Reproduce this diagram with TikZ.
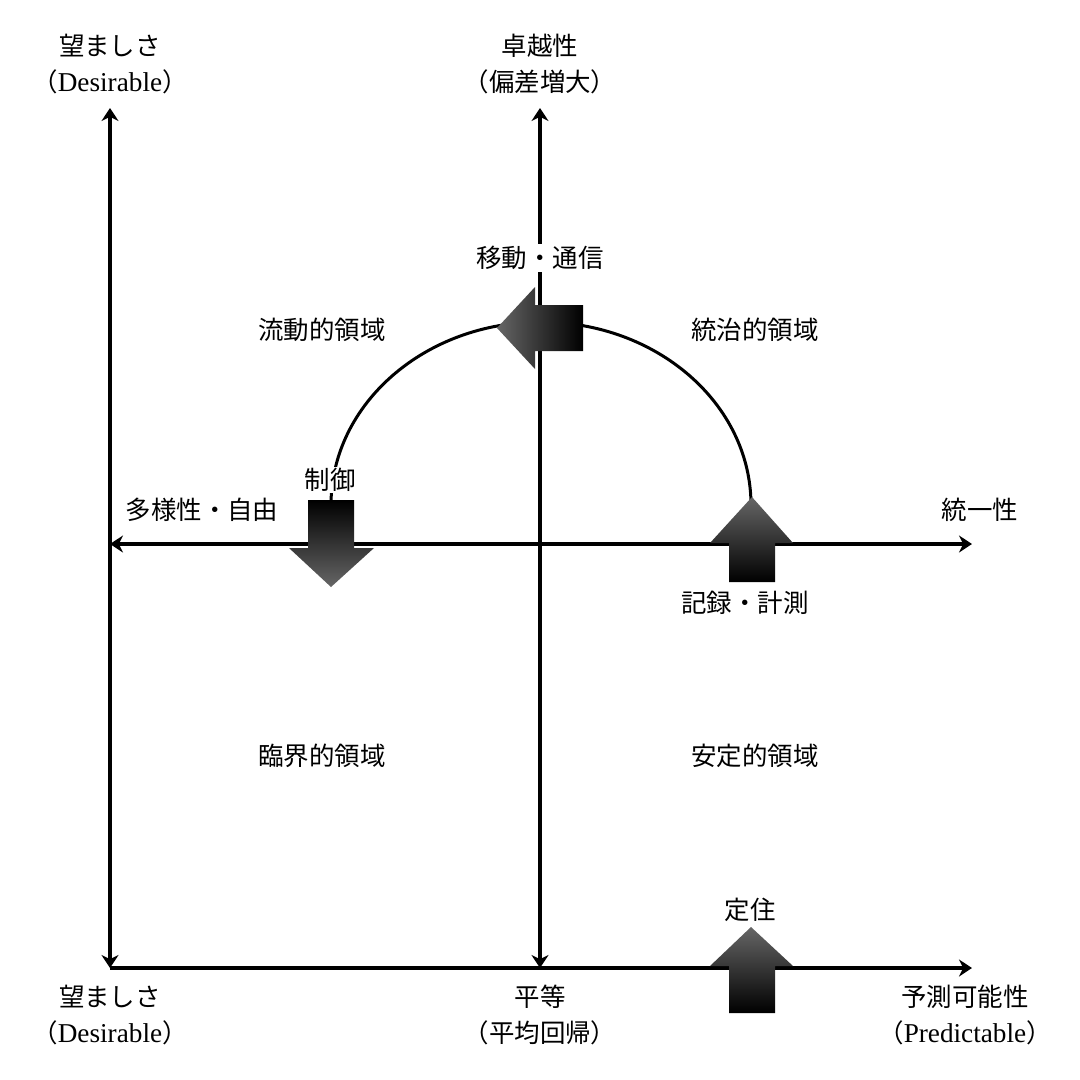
\documentclass[tikz,border=0pt]{standalone}
\usepackage{fontspec}
\setmainfont{Liberation Serif}
\newfontfamily\jpfont{Noto Sans CJK JP}
\usetikzlibrary{arrows.meta}

\begin{document}
\begin{tikzpicture}[
    x=0.02cm, y=-0.02cm,
    axis/.style={line width=0.08cm, {Stealth[length=0.26cm, width=0.34cm]}-{Stealth[length=0.26cm, width=0.34cm]}},
    oneway/.style={line width=0.08cm, -{Stealth[length=0.26cm, width=0.34cm]}},
    orbit/.style={line width=0.06cm},
    lbl/.style={font=\jpfont\fontsize{14.5}{20}\selectfont, align=center, inner sep=1pt},
    latin/.style={font=\rmfamily\fontsize{15.5}{20}\selectfont}
  ]
  \useasboundingbox (0,0) rectangle (1080,1080);

  % axes
  \coordinate (ltop) at (110,108);
  \coordinate (lbot) at (110,968);
  \coordinate (mtop) at (540,108);
  \coordinate (mbot) at (540,968);
  \coordinate (hleft) at (110,544);
  \coordinate (hright) at (972,544);
  \coordinate (bright) at (972,968);

  \draw[axis] (lbot) -- (ltop);
  \draw[axis] (mbot) -- (mtop);
  \draw[axis] (hleft) -- (hright);
  \draw[oneway] (lbot) -- (bright);

  % orbit through the upper half
  \coordinate (orbitL) at (331,505);
  \draw[orbit] (orbitL) arc[start angle=180, end angle=360, x radius=210, y radius=183];

  % block arrows
  \shade[left color=black!60, right color=black]
    (497,328) -- (535,287) -- (535,305) -- (583,305) -- (583,351) -- (535,351) -- (535,369) -- cycle;
  \node[lbl, fill=white] (ctrl) at (330,480) {制御};
  \shade[top color=black, bottom color=black!60]
    (308,500) -- (354,500) -- (354,548) -- (374,548) -- (331,587) -- (289,548) -- (308,548) -- cycle;
  \shade[top color=black!60, bottom color=black]
    (752,497) -- (793,543) -- (775,543) -- (775,582) -- (729,582) -- (729,543) -- (710,543) -- cycle;
  \shade[top color=black!60, bottom color=black]
    (751,927) -- (793,966) -- (775,966) -- (775,1013) -- (729,1013) -- (729,966) -- (710,966) -- cycle;

  % labels
  \node[lbl] (want) at (110,64) {望ましさ\\（{\fontsize{15.5}{20}\selectfont\rmfamily Desirable}）};
  \node[lbl] (excel) at (540,64) {卓越性\\（偏差増大）};
  \node[lbl, fill=white] (move) at (540,258) {移動・通信};
  \node[lbl] (fluid) at (322,330) {流動的領域};
  \node[lbl] (rule) at (755,330) {統治的領域};
  \node[lbl] (diverse) at (202,510) {多様性・自由};
  \node[lbl] (unity) at (980,510) {統一性};
  \node[lbl] (record) at (745,603) {記録・計測};
  \node[lbl] (crit) at (322,756) {臨界的領域};
  \node[lbl] (stable) at (755,756) {安定的領域};
  \node[lbl] (settle) at (750,910) {定住};
  \node[lbl] (want2) at (110,1015) {望ましさ\\（{\fontsize{15.5}{20}\selectfont\rmfamily Desirable}）};
  \node[lbl] (equal) at (540,1015) {平等\\（平均回帰）};
  \node[lbl] (pred) at (965,1015) {予測可能性\\（{\fontsize{15.5}{20}\selectfont\rmfamily Predictable}）};
\end{tikzpicture}
\end{document}
